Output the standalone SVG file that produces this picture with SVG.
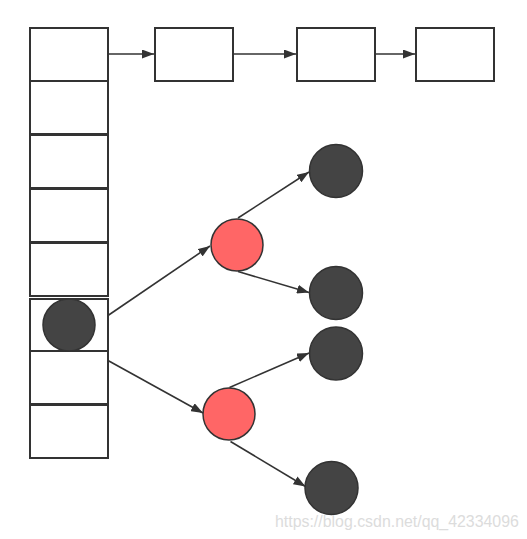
<svg xmlns="http://www.w3.org/2000/svg" width="527" height="539" viewBox="0 0 527 539">
<style>
.box{fill:#fff;stroke:#333;stroke-width:2}
.dark{fill:#444;stroke:#333;stroke-width:1.5}
.red{fill:#ff6666;stroke:#333;stroke-width:1.5}
.edge{stroke:#333;stroke-width:1.6;fill:none;marker-end:url(#arr)}
.wm{font-family:"Liberation Sans",Arial,sans-serif;font-size:15.9px;fill:#dcdcdc}
</style>
<defs>
<marker id="arr" markerUnits="userSpaceOnUse" markerWidth="13" markerHeight="9" refX="12" refY="4.5" orient="auto">
<path d="M0,0 L12,4.5 L0,9 z" fill="#333"/>
</marker>
</defs>
<rect width="527" height="539" fill="#fff"/>
<g id="bucket0"><rect class="box" x="30" y="28" width="78" height="53"/></g>
<g id="bucket1"><rect class="box" x="30" y="81" width="78" height="53"/></g>
<g id="bucket2"><rect class="box" x="30" y="135" width="78" height="53"/></g>
<g id="bucket3"><rect class="box" x="30" y="189" width="78" height="53"/></g>
<g id="bucket4"><rect class="box" x="30" y="243" width="78" height="53"/></g>
<g id="bucket5"><rect class="box" x="30" y="299" width="78" height="52"/></g>
<g id="bucket6"><rect class="box" x="30" y="351" width="78" height="53"/></g>
<g id="bucket7"><rect class="box" x="30" y="405" width="78" height="53"/></g>
<g id="list1"><rect class="box" x="155" y="28" width="78" height="53"/></g>
<g id="list2"><rect class="box" x="297" y="28" width="78" height="53"/></g>
<g id="list3"><rect class="box" x="416" y="28" width="78" height="53"/></g>
<g id="root"><circle class="dark" cx="69" cy="325" r="26"/></g>
<g id="red1"><circle class="red" cx="237" cy="245" r="26"/></g>
<g id="red2"><circle class="red" cx="229" cy="414" r="26"/></g>
<g id="leaf1"><circle class="dark" cx="336" cy="171" r="26.5"/></g>
<g id="leaf2"><circle class="dark" cx="336" cy="293" r="26.5"/></g>
<g id="leaf3"><circle class="dark" cx="336" cy="353.5" r="26.5"/></g>
<g id="leaf4"><circle class="dark" cx="331.5" cy="488" r="26.5"/></g>
<g id="connectors">
<line class="edge" x1="108" y1="54" x2="154" y2="54"/>
<line class="edge" x1="233" y1="54" x2="296" y2="54"/>
<line class="edge" x1="375" y1="54" x2="415" y2="54"/>
<line class="edge" x1="108" y1="315.5" x2="210" y2="246"/>
<line class="edge" x1="108" y1="360.5" x2="203" y2="413"/>
<line class="edge" x1="238" y1="218" x2="309" y2="172"/>
<line class="edge" x1="238" y1="271.5" x2="309" y2="292.5"/>
<line class="edge" x1="229.5" y1="387.5" x2="309" y2="353"/>
<line class="edge" x1="230.5" y1="441.5" x2="305.5" y2="486.5"/>
</g>
<text class="wm" x="275" y="527">https://blog.csdn.net/qq_42334096</text>
</svg>
